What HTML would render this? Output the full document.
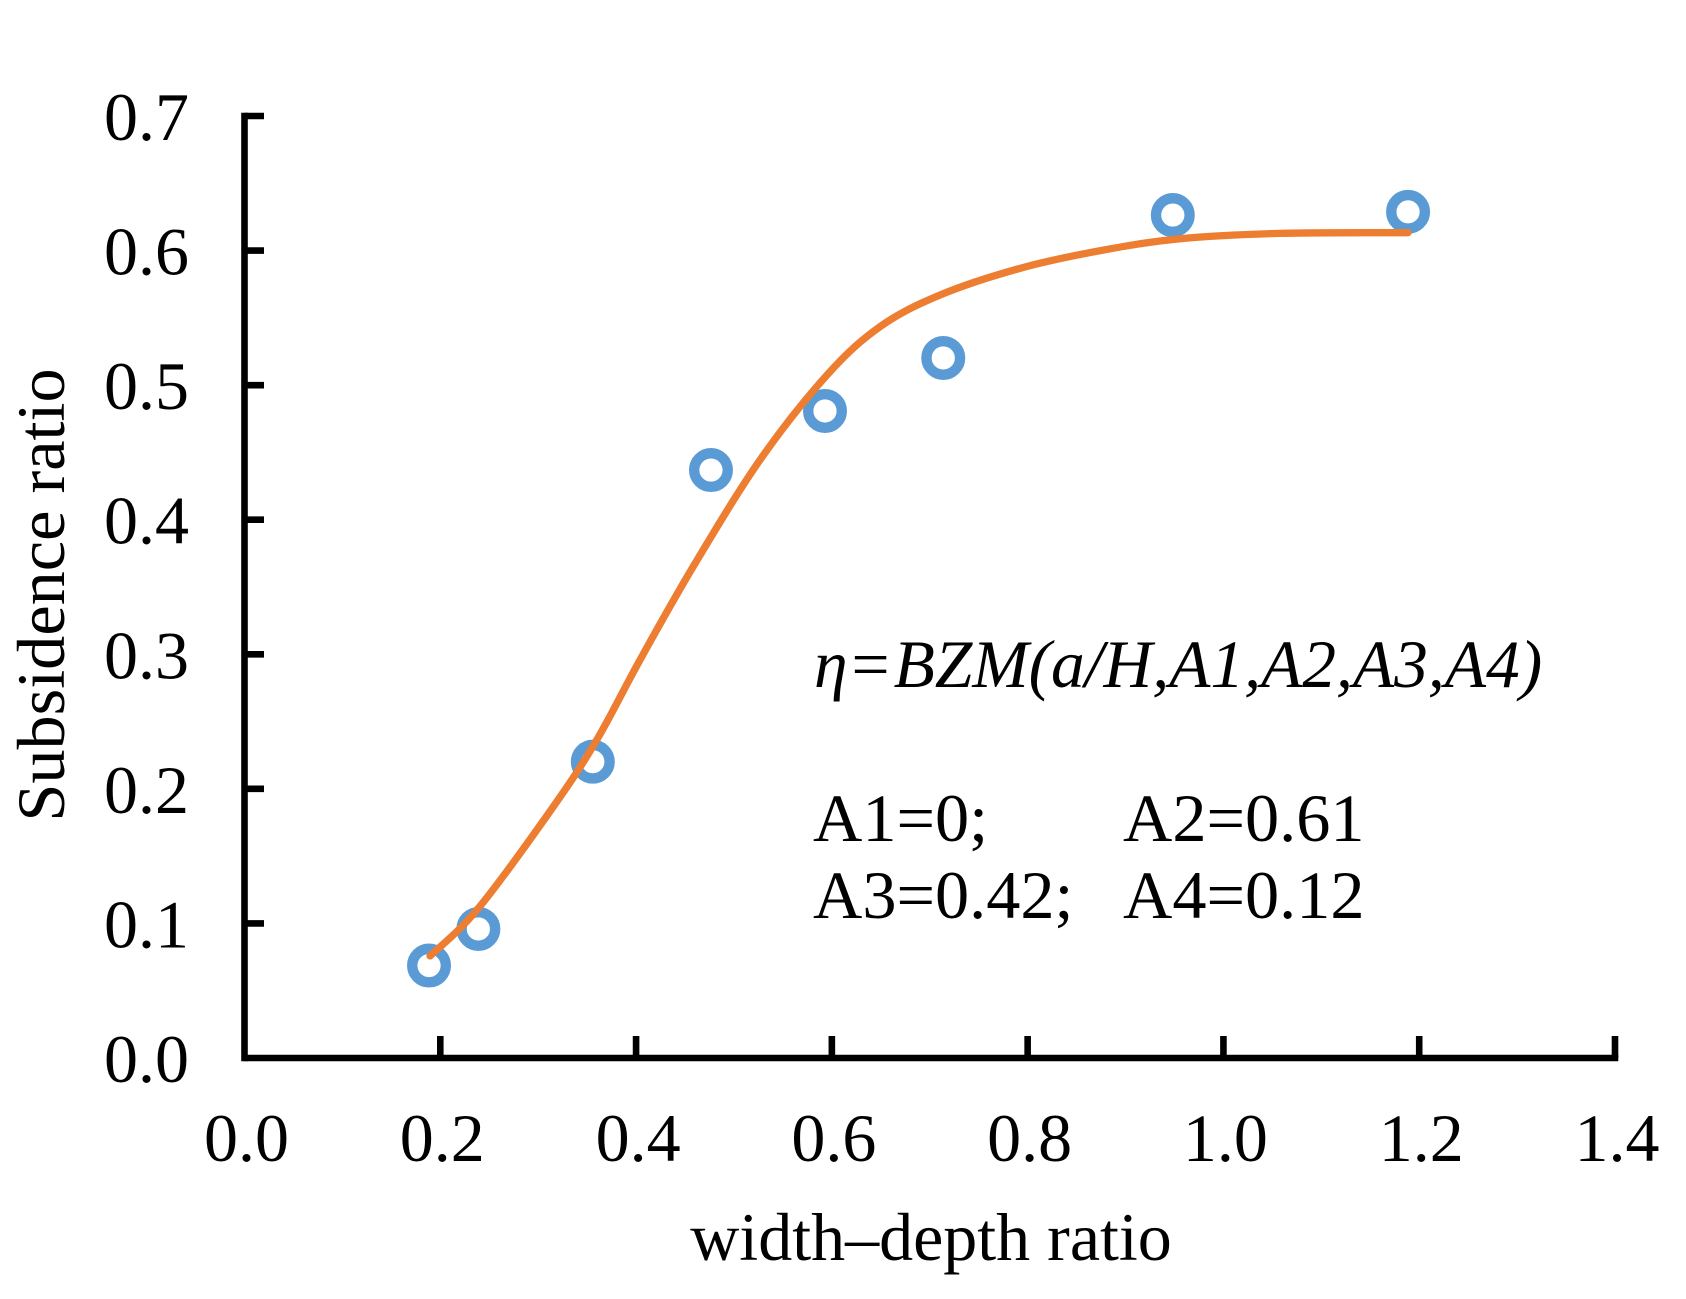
<!DOCTYPE html>
<html lang="en">
<head>
<meta charset="utf-8">
<title>Subsidence ratio vs width-depth ratio</title>
<style>
html,body{margin:0;padding:0;background:#fff;}
svg{display:block;}
text{font-family:"Liberation Serif",serif;fill:#000;}
</style>
</head>
<body>
<svg id="chart" xmlns="http://www.w3.org/2000/svg" width="1686" height="1299" viewBox="0 0 1686 1299">
  <rect x="0" y="0" width="1686" height="1299" fill="#ffffff"/>
  <g id="axes"></g>
  <g id="points"></g>
  <path id="fit" fill="none" stroke="#ed7d31" stroke-width="7.3" stroke-linecap="round" stroke-linejoin="round"/>
  <text x="931" y="1260" font-size="68" text-anchor="middle">width–depth ratio</text>
  <text transform="translate(64 595) rotate(-90)" font-size="68.3" text-anchor="middle">Subsidence ratio</text>
  <text x="814" y="687" font-size="67.5" font-style="italic">η<tspan font-style="normal" dx="4">=</tspan><tspan dx="4">BZM(a/H,A1,A2,A3,A4)</tspan></text>
  <text x="813" y="841" font-size="68.3">A1=0;</text>
  <text x="1123" y="841" font-size="68.3">A2=0.61</text>
  <text x="813" y="918" font-size="68.3">A3=0.42;</text>
  <text x="1123" y="918" font-size="68.3">A4=0.12</text>
</svg>
<script>
const xTickValues = [0, 0.2, 0.4, 0.6, 0.8, 1.0, 1.2, 1.4];
const xTickLabels = ["0.0", "0.2", "0.4", "0.6", "0.8", "1.0", "1.2", "1.4"];
const yTickValues = [0, 0.1, 0.2, 0.3, 0.4, 0.5, 0.6, 0.7];
const yTickLabels = ["0.0", "0.1", "0.2", "0.3", "0.4", "0.5", "0.6", "0.7"];
const pointX = [0.1885, 0.2389, 0.3558, 0.4765, 0.593, 0.7138, 0.9483, 1.1886];
const pointY = [0.0687, 0.0959, 0.2202, 0.4369, 0.4808, 0.5202, 0.6264, 0.6288];
const curveX = [0.1895, 0.2388, 0.3154, 0.3598, 0.404, 0.4581, 0.5266, 0.595, 0.6491, 0.7105, 0.7922, 0.874, 0.9557, 1.0578, 1.1886];
const curveY = [0.0758, 0.1112, 0.1867, 0.2363, 0.2958, 0.3649, 0.4444, 0.5075, 0.5434, 0.567, 0.5868, 0.5999, 0.6088, 0.6128, 0.6133];

const X0 = 244.5, XMAX = 1615, XDOMAIN = 1.4;
const Y0 = 1058, YTOP = 116, YDOMAIN = 0.7;
function sx(v) { return X0 + (XMAX - X0) * v / XDOMAIN; }
function sy(v) { return Y0 - (Y0 - YTOP) * v / YDOMAIN; }

const NS = "http://www.w3.org/2000/svg";
function make(tag, attrs, parent) {
  const n = document.createElementNS(NS, tag);
  for (const k in attrs) n.setAttribute(k, attrs[k]);
  parent.appendChild(n);
  return n;
}

const axes = document.getElementById("axes");
const AXIS_W = 6.6, X_TICK_LEN = 22, Y_TICK_LEN = 19.5;

const yLine = make("line", {x1: sx(0), y1: sy(0.7) - AXIS_W / 2, x2: sx(0), y2: sy(0) + AXIS_W / 2, stroke: "#000", "stroke-width": AXIS_W}, axes);


const xLine = make("line", {x1: sx(0), y1: sy(0), x2: sx(1.4) + AXIS_W / 2, y2: sy(0), stroke: "#000", "stroke-width": AXIS_W}, axes);



xTickValues.forEach(function (v, i) {
  if (i > 0) {
    const t = make("line", {x1: sx(v), y1: sy(0), x2: sx(v), y2: sy(0) - X_TICK_LEN, stroke: "#000", "stroke-width": AXIS_W}, axes);
    
    
  }
  const l = make("text", {x: sx(v) + 2, y: 1161, "font-size": 68, "text-anchor": "middle"}, axes);
  l.textContent = xTickLabels[i];
  
  
});

yTickValues.forEach(function (v, i) {
  if (i > 0) {
    const t = make("line", {x1: sx(0), y1: sy(v), x2: sx(0) + Y_TICK_LEN, y2: sy(v), stroke: "#000", "stroke-width": AXIS_W}, axes);
    
    
  }
  const l = make("text", {x: 189, y: sy(v) + 24, "font-size": 68, "text-anchor": "end"}, axes);
  l.textContent = yTickLabels[i];
  
  
});

const pointsGroup = document.getElementById("points");
pointX.forEach(function (v, i) {
  const c = make("circle", {cx: sx(v), cy: sy(pointY[i]), r: 16.8, fill: "none", stroke: "#5b9bd5", "stroke-width": 10.4}, pointsGroup);
  
  
});

const px = curveX.map(sx), py = curveY.map(sy);
let d = "M" + px[0] + " " + py[0];
for (let i = 0; i < px.length - 1; i++) {
  const i0 = Math.max(0, i - 1), i3 = Math.min(px.length - 1, i + 2);
  const c1x = px[i] + (px[i + 1] - px[i0]) / 6, c1y = py[i] + (py[i + 1] - py[i0]) / 6;
  const c2x = px[i + 1] - (px[i3] - px[i]) / 6, c2y = py[i + 1] - (py[i3] - py[i]) / 6;
  d += " C" + c1x + " " + c1y + " " + c2x + " " + c2y + " " + px[i + 1] + " " + py[i + 1];
}
document.getElementById("fit").setAttribute("d", d);
</script>
</body>
</html>
